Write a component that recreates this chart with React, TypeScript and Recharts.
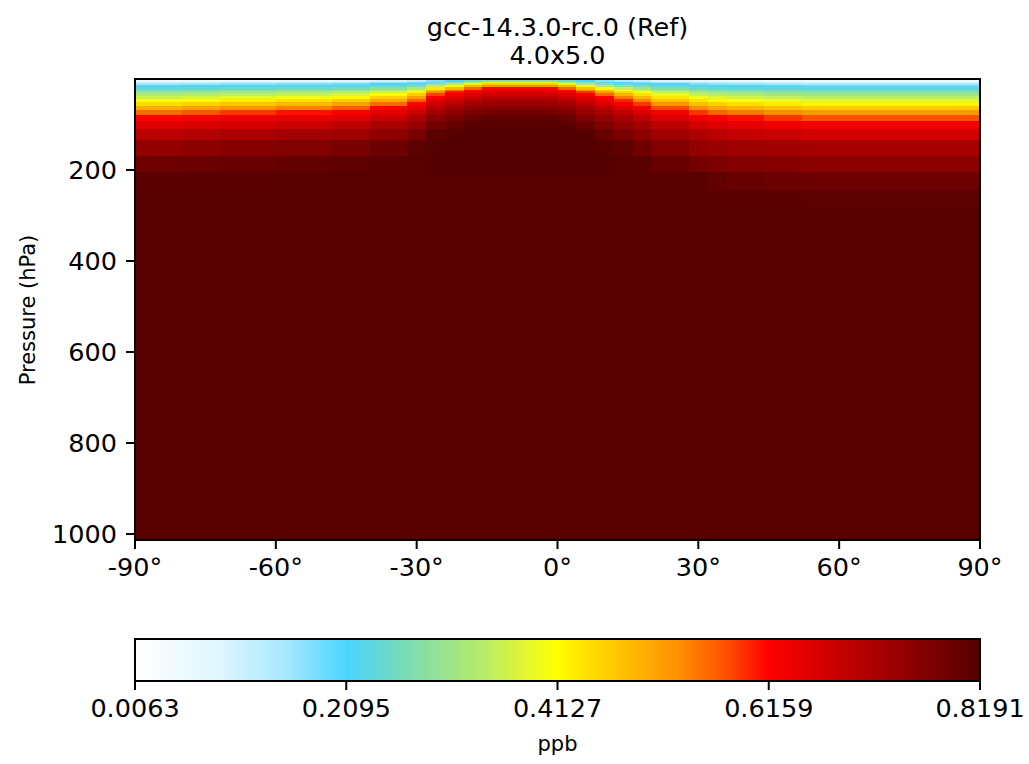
import React from 'react';
import { ComposedChart, XAxis, YAxis, ReferenceArea } from 'recharts';

// ---------- grid ----------
const LAT_EDGES = [-90, -88, -84, -80, -76, -72, -68, -64, -60, -56, -52, -48, -44, -40, -36, -32, -28, -24, -20, -16, -12, -8, -4, 0, 4, 8, 12, 16, 20, 24, 28, 32, 36, 40, 44, 48, 52, 56, 60, 64, 68, 72, 76, 80, 84, 88, 90];
const P_EDGES = [0, 2.5, 5.8, 9.2, 12.5, 17.1, 23.2, 27.1, 31.6, 36.8, 42.9, 50.1, 58.5, 68.3, 79.8, 93.2, 109.0, 134.0, 168.4, 205.4, 243.4, 281.5, 1013.25];

// ---------- vertical profiles (ppb, top -> bottom) ----------
const SH_S00 = [0.023, 0.061, 0.108, 0.153, 0.207, 0.240, 0.271, 0.296, 0.327, 0.363, 0.404, 0.446, 0.495, 0.556, 0.618, 0.652, 0.697, 0.746, 0.788, 0.813, 0.815, 0.817];
const SH_S05 = [0.027, 0.066, 0.114, 0.160, 0.212, 0.245, 0.278, 0.304, 0.336, 0.374, 0.415, 0.458, 0.509, 0.572, 0.626, 0.661, 0.706, 0.752, 0.793, 0.813, 0.815, 0.817];
const SH_S10 = [0.033, 0.072, 0.122, 0.169, 0.217, 0.252, 0.285, 0.312, 0.345, 0.386, 0.427, 0.471, 0.524, 0.589, 0.634, 0.669, 0.717, 0.759, 0.798, 0.813, 0.815, 0.817];
const SH_S15 = [0.038, 0.079, 0.130, 0.178, 0.223, 0.258, 0.293, 0.322, 0.357, 0.399, 0.440, 0.486, 0.541, 0.608, 0.642, 0.678, 0.723, 0.766, 0.803, 0.814, 0.815, 0.817];
const SH_S22 = [0.045, 0.088, 0.140, 0.190, 0.230, 0.269, 0.306, 0.336, 0.374, 0.418, 0.460, 0.508, 0.566, 0.624, 0.654, 0.691, 0.732, 0.777, 0.810, 0.815, 0.816, 0.817];
const SH_S35 = [0.060, 0.105, 0.162, 0.213, 0.247, 0.292, 0.335, 0.369, 0.413, 0.456, 0.502, 0.557, 0.618, 0.648, 0.679, 0.718, 0.751, 0.791, 0.812, 0.816, 0.816, 0.817];
const SH_S50 = [0.077, 0.127, 0.192, 0.233, 0.275, 0.329, 0.382, 0.421, 0.462, 0.512, 0.566, 0.620, 0.647, 0.679, 0.713, 0.741, 0.776, 0.809, 0.816, 0.817, 0.817, 0.817];
const SH_S74 = [0.108, 0.176, 0.243, 0.294, 0.357, 0.431, 0.485, 0.529, 0.584, 0.627, 0.648, 0.674, 0.704, 0.731, 0.756, 0.783, 0.809, 0.817, 0.819, 0.818, 0.817, 0.817];
const SH_S85 = [0.126, 0.210, 0.281, 0.348, 0.423, 0.490, 0.555, 0.606, 0.631, 0.653, 0.677, 0.704, 0.729, 0.753, 0.778, 0.800, 0.816, 0.819, 0.819, 0.818, 0.817, 0.817];
const SH_S95 = [0.149, 0.247, 0.344, 0.425, 0.487, 0.566, 0.622, 0.639, 0.658, 0.682, 0.707, 0.729, 0.750, 0.775, 0.795, 0.813, 0.819, 0.819, 0.819, 0.818, 0.817, 0.817];
const EQ = [0.167, 0.277, 0.396, 0.460, 0.528, 0.616, 0.636, 0.652, 0.673, 0.697, 0.722, 0.739, 0.761, 0.785, 0.805, 0.815, 0.819, 0.819, 0.819, 0.818, 0.817, 0.817];
const NH_S85 = [0.124, 0.206, 0.275, 0.340, 0.415, 0.479, 0.539, 0.588, 0.626, 0.647, 0.670, 0.696, 0.723, 0.744, 0.767, 0.792, 0.815, 0.819, 0.819, 0.818, 0.817, 0.817];
const NH_S74 = [0.106, 0.171, 0.237, 0.285, 0.344, 0.418, 0.469, 0.509, 0.560, 0.618, 0.639, 0.663, 0.692, 0.722, 0.743, 0.767, 0.795, 0.815, 0.819, 0.818, 0.817, 0.817];
const NH_S62 = [0.090, 0.144, 0.212, 0.250, 0.297, 0.357, 0.415, 0.449, 0.492, 0.544, 0.599, 0.632, 0.659, 0.691, 0.722, 0.744, 0.773, 0.807, 0.816, 0.817, 0.817, 0.817];
const NH_S50 = [0.075, 0.123, 0.184, 0.227, 0.266, 0.316, 0.364, 0.403, 0.442, 0.487, 0.535, 0.590, 0.631, 0.661, 0.693, 0.725, 0.751, 0.787, 0.812, 0.816, 0.816, 0.817];
const NH_S35 = [0.058, 0.101, 0.155, 0.205, 0.239, 0.280, 0.320, 0.352, 0.392, 0.434, 0.475, 0.522, 0.579, 0.629, 0.658, 0.696, 0.730, 0.764, 0.799, 0.814, 0.815, 0.817];
const NH_S22 = [0.045, 0.084, 0.133, 0.179, 0.223, 0.258, 0.293, 0.321, 0.355, 0.396, 0.436, 0.479, 0.529, 0.591, 0.633, 0.667, 0.713, 0.746, 0.782, 0.812, 0.814, 0.817];
const NH_S15 = [0.037, 0.075, 0.123, 0.167, 0.215, 0.249, 0.280, 0.307, 0.340, 0.378, 0.418, 0.458, 0.506, 0.564, 0.621, 0.654, 0.698, 0.738, 0.773, 0.803, 0.813, 0.816];
const NH_S10 = [0.032, 0.069, 0.115, 0.159, 0.211, 0.243, 0.274, 0.298, 0.329, 0.366, 0.406, 0.445, 0.492, 0.547, 0.609, 0.645, 0.687, 0.732, 0.765, 0.796, 0.812, 0.816];
const NH_S05 = [0.027, 0.063, 0.109, 0.151, 0.203, 0.237, 0.266, 0.290, 0.320, 0.355, 0.393, 0.433, 0.478, 0.531, 0.590, 0.636, 0.678, 0.727, 0.760, 0.791, 0.812, 0.816];
const NH_S00 = [0.022, 0.057, 0.101, 0.144, 0.194, 0.232, 0.261, 0.283, 0.311, 0.345, 0.382, 0.422, 0.465, 0.517, 0.574, 0.628, 0.669, 0.722, 0.754, 0.788, 0.811, 0.816];

// one profile per latitude cell (46 cells, south -> north)
const COLUMNS = [
  SH_S00, SH_S00, SH_S00, SH_S05, SH_S05, SH_S10, SH_S10, SH_S10, SH_S15, SH_S15,
  SH_S15, SH_S22, SH_S22, SH_S35, SH_S35, SH_S50, SH_S74, SH_S85, SH_S95, EQ,
  EQ, EQ, EQ, SH_S95, NH_S85, NH_S74, NH_S62, NH_S50, NH_S35, NH_S35,
  NH_S22, NH_S15, NH_S10, NH_S10, NH_S05, NH_S05, NH_S00, NH_S00, NH_S00, NH_S00,
  NH_S00, NH_S00, NH_S00, NH_S00, NH_S00, NH_S00,
];

const X_TICKS = [-90, -60, -30, 0, 30, 60, 90];
const Y_TICKS = [200, 400, 600, 800, 1000];
const VMIN = 0.0063;
const VMAX = 0.8191;
const CBAR_TICKS = [0.0063, 0.2095, 0.4127, 0.6159, 0.8191];

const TITLE_1 = 'gcc-14.3.0-rc.0 (Ref)';
const TITLE_2 = '4.0x5.0';
const Y_LABEL = 'Pressure (hPa)';
const CBAR_LABEL = 'ppb';

// colormap (WhGrYlRd-like)
const CMAP: [number, string][] = [
  [0, '#ffffff'], [0.1, '#dff6ff'], [0.18, '#a5e8ff'], [0.25, '#4ad5ff'], [0.3, '#6bd9c8'],
  [0.35, '#8ee09a'], [0.42, '#bdee62'], [0.46, '#e0f630'], [0.5, '#ffff00'], [0.55, '#ffd400'],
  [0.6, '#ffb000'], [0.65, '#ff8800'], [0.7, '#ff5000'], [0.75, '#ff0000'], [1, '#550000'],
];

function hex(c: string) {
  return [parseInt(c.slice(1, 3), 16), parseInt(c.slice(3, 5), 16), parseInt(c.slice(5, 7), 16)];
}
function colorAtFraction(tt: number) {
  const t = Math.max(0, Math.min(1, tt));
  for (let k = 0; k < CMAP.length - 1; k++) {
    const [t0, c0] = CMAP[k];
    const [t1, c1] = CMAP[k + 1];
    if (t <= t1) {
      const f = (t - t0) / (t1 - t0);
      const a = hex(c0), b = hex(c1);
      const r = a.map((x, i) => Math.round(x + (b[i] - x) * f));
      return `rgb(${r[0]},${r[1]},${r[2]})`;
    }
  }
  return CMAP[CMAP.length - 1][1];
}
function colorOf(v: number) {
  return colorAtFraction((v - VMIN) / (VMAX - VMIN));
}

const CELLS: { key: string; x1: number; x2: number; y1: number; y2: number; fill: string }[] = [];
for (let i = 0; i < LAT_EDGES.length - 1; i++) {
  for (let j = 0; j < P_EDGES.length - 1; j++) {
    CELLS.push({
      key: `c${i}-${j}`,
      x1: LAT_EDGES[i],
      x2: LAT_EDGES[i + 1],
      y1: P_EDGES[j],
      y2: P_EDGES[j + 1],
      fill: colorOf(COLUMNS[i][j]),
    });
  }
}

// colorbar segments (the colour scale itself, 256 steps like matplotlib)
const N_SEG = 256;
const CBAR_SEGS = Array.from({ length: N_SEG }, (_, k) => ({
  key: `s${k}`,
  x1: VMIN + ((VMAX - VMIN) * k) / N_SEG,
  x2: VMIN + ((VMAX - VMIN) * (k + 1)) / N_SEG,
  fill: colorAtFraction((k + 0.5) / N_SEG),
}));

const FONT = 'DejaVu Sans';
const TICK_STYLE = { fill: '#000', fontSize: 25.5, fontFamily: FONT };

const crispRect = (props: any) => (
  <rect
    x={props.x}
    y={props.y}
    width={props.width}
    height={props.height}
    fill={props.fill}
    stroke="none"
    shapeRendering="crispEdges"
  />
);

export default function App() {
  return (
    <div style={{ position: 'absolute', left: 0, top: 0, width: 1029, height: 764, background: '#fff', overflow: 'hidden' }}>
      <div style={{ position: 'absolute', left: 0, top: 0 }}>
        <ComposedChart width={1029} height={600} margin={{ top: 79, right: 49, bottom: 0, left: 0 }} data={[]}>
          <XAxis
            type="number"
            dataKey="lat"
            domain={[-90, 90]}
            ticks={X_TICKS}
            interval={0}
            allowDataOverflow
            tickFormatter={(v: number) => `${v}°`}
            height={60}
            tickSize={9}
            tickMargin={9}
            axisLine={{ stroke: '#000', strokeWidth: 2 }}
            tickLine={{ stroke: '#000', strokeWidth: 2 }}
            tick={TICK_STYLE}
          />
          <YAxis
            type="number"
            dataKey="p"
            domain={[0, 1013.25]}
            reversed
            ticks={Y_TICKS}
            interval={0}
            allowDataOverflow
            width={135}
            tickSize={9}
            tickMargin={9}
            axisLine={{ stroke: '#000', strokeWidth: 2 }}
            tickLine={{ stroke: '#000', strokeWidth: 2 }}
            tick={TICK_STYLE}
          />
          {CELLS.map((c) => (
            <ReferenceArea
              key={c.key}
              x1={c.x1}
              x2={c.x2}
              y1={c.y1}
              y2={c.y2}
              fill={c.fill}
              fillOpacity={1}
              ifOverflow="visible"
              shape={crispRect}
            />
          ))}
          <ReferenceArea x1={-90} x2={90} y1={0} y2={1013.25} fill="none" fillOpacity={0} stroke="#000" strokeWidth={2} ifOverflow="visible" />
        </ComposedChart>
      </div>
      <div style={{ position: 'absolute', left: 0, top: 600 }}>
        <ComposedChart width={1029} height={164} margin={{ top: 39, right: 49, bottom: 0, left: 0 }} data={[]}>
          <XAxis
            type="number"
            dataKey="v"
            domain={[VMIN, VMAX]}
            ticks={CBAR_TICKS}
            interval={0}
            allowDataOverflow
            tickFormatter={(v: number) => v.toFixed(4)}
            height={83}
            tickSize={9}
            tickMargin={9}
            axisLine={false}
            tickLine={{ stroke: '#000', strokeWidth: 2 }}
            tick={TICK_STYLE}
          />
          <YAxis type="number" dataKey="y" domain={[0, 1]} width={135} tick={false} axisLine={false} tickLine={false} allowDataOverflow />
          {CBAR_SEGS.map((s) => (
            <ReferenceArea
              key={s.key}
              x1={s.x1}
              x2={s.x2}
              y1={0}
              y2={1}
              fill={s.fill}
              fillOpacity={1}
              ifOverflow="visible"
              shape={crispRect}
            />
          ))}
          <ReferenceArea x1={VMIN} x2={VMAX} y1={0} y2={1} fill="none" fillOpacity={0} stroke="#000" strokeWidth={2} ifOverflow="visible" />
        </ComposedChart>
      </div>
      <svg width={1029} height={764} style={{ position: 'absolute', left: 0, top: 0, pointerEvents: 'none' }}>
        <text x={557.5} y={36} textAnchor="middle" fontFamily={FONT} fontSize={25.5} fill="#000">{TITLE_1}</text>
        <text x={557.5} y={64} textAnchor="middle" fontFamily={FONT} fontSize={25.5} fill="#000">{TITLE_2}</text>
        <text x={35} y={310} textAnchor="middle" fontFamily={FONT} fontSize={21} fill="#000" transform="rotate(-90 35 310)">{Y_LABEL}</text>
        <text x={557.5} y={751} textAnchor="middle" fontFamily={FONT} fontSize={21} fill="#000">{CBAR_LABEL}</text>
      </svg>
    </div>
  );
}
